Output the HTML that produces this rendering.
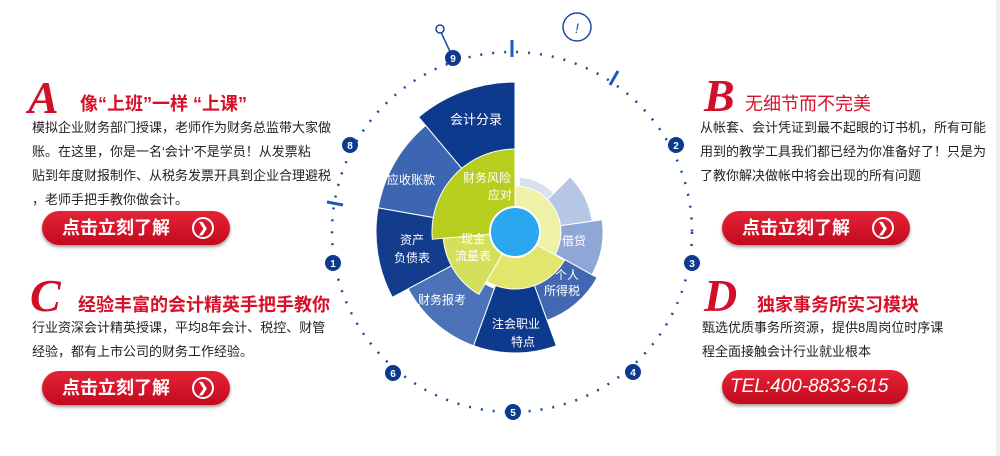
<!DOCTYPE html>
<html><head><meta charset="utf-8">
<style>
body{margin:0;width:1000px;height:456px;background:#fff;overflow:hidden;position:relative;font-family:"Liberation Sans","Noto Sans CJK SC",sans-serif}
.t{position:absolute;white-space:nowrap}
.ttl{color:#d7102a;font-size:18px;font-weight:bold}
.body{font-size:13px;color:#222;line-height:24px}
.L{position:absolute;color:#d01028;font-family:"Liberation Serif",serif;font-style:italic;font-weight:bold;font-size:46px;line-height:40px}
.btn{position:absolute;width:188px;height:34px;border-radius:17px;background:linear-gradient(#e52336,#c40a1e);box-shadow:0 2px 3px #999;color:#fff;font-size:18px;font-weight:bold;line-height:34px}
.btn span{position:absolute;left:20px}
.btn i{position:absolute;left:150px;top:6px;width:18px;height:18px;border:2px solid #fff;border-radius:50%;font-style:normal;font-size:13px;line-height:18px;text-align:center}
</style></head><body>
<div style="position:absolute;left:996px;top:0;width:4px;height:456px;background:#eef0f4"></div>
<svg id="s" width="1000" height="456" style="position:absolute;left:0;top:0">
<circle cx="512" cy="232" r="180" fill="none" stroke="#1a4aa0" stroke-width="2.5" stroke-dasharray="2 10"/>
<line x1="512" y1="40" x2="512" y2="57" stroke="#1a5ac0" stroke-width="3"/>
<line x1="618" y1="71" x2="610" y2="85" stroke="#1a5ac0" stroke-width="3"/>
<line x1="327" y1="202" x2="343" y2="205" stroke="#1a5ac0" stroke-width="3"/>
<line x1="453" y1="58" x2="440" y2="30" stroke="#1a4aa0" stroke-width="1.5"/>
<circle cx="440" cy="29" r="4" fill="#fff" stroke="#1a4aa0" stroke-width="1.5"/>
<circle cx="577" cy="27" r="14" fill="#fff" stroke="#1a4aa0" stroke-width="1.5"/>
<text x="575" y="33" font-size="14" fill="#1a4aa0" font-style="italic">!</text>
<g id="nums" font-size="10" font-weight="bold" fill="#fff" text-anchor="middle"></g>
<g id="sun"></g>
</svg>
<div class="L" style="left:28px;top:78px">A</div>
<div class="t ttl" style="left:80px;top:90px">像“上班”一样 “上课”</div>
<div class="t body" style="left:32px;top:116px">模拟企业财务部门授课，老师作为财务总监带大家做<br>账。在这里，你是一名‘会计’不是学员！从发票粘<br>贴到年度财报制作、从税务发票开具到企业合理避税<br>，老师手把手教你做会计。</div>
<div class="btn" style="left:42px;top:211px"><span>点击立刻了解</span><i>❯</i></div>
<div class="L" style="left:30px;top:276px">C</div>
<div class="t ttl" style="left:78px;top:291px">经验丰富的会计精英手把手教你</div>
<div class="t body" style="left:32px;top:316px">行业资深会计精英授课，平均8年会计、税控、财管<br>经验，都有上市公司的财务工作经验。</div>
<div class="btn" style="left:42px;top:371px"><span>点击立刻了解</span><i>❯</i></div>
<div class="L" style="left:704px;top:76px">B</div>
<div class="t ttl" style="left:745px;top:90px;font-weight:normal">无细节而不完美</div>
<div class="t body" style="left:700px;top:116px">从帐套、会计凭证到最不起眼的订书机，所有可能<br>用到的教学工具我们都已经为你准备好了！只是为<br>了教你解决做帐中将会出现的所有问题</div>
<div class="btn" style="left:722px;top:211px"><span>点击立刻了解</span><i>❯</i></div>
<div class="L" style="left:704px;top:276px">D</div>
<div class="t ttl" style="left:757px;top:291px">独家事务所实习模块</div>
<div class="t body" style="left:702px;top:316px">甄选优质事务所资源，提供8周岗位时序课<br>程全面接触会计行业就业根本</div>
<div class="btn" style="left:722px;top:370px;width:186px;font-style:italic;font-weight:normal;font-size:19px"><span style="left:8px">TEL:400-8833-615</span></div>
<script>
var cx=515,cy=232,ns="http://www.w3.org/2000/svg",sun=document.getElementById('sun');
function P(a,r){a=a*Math.PI/180;return [cx+r*Math.sin(a),cy-r*Math.cos(a)];}
function seg(a0,a1,r0,r1,col){var p=document.createElementNS(ns,'path'),l=Math.abs(a1-a0)>180?1:0;
var A=P(a0,r1),B=P(a1,r1),C=P(a1,r0),D=P(a0,r0);
p.setAttribute('d','M'+A+' A'+r1+' '+r1+' 0 '+l+' 1 '+B+' L'+C+' A'+r0+' '+r0+' 0 '+l+' 0 '+D+'Z');
p.setAttribute('fill',col);p.setAttribute('stroke','#fff');p.setAttribute('stroke-width','1');sun.appendChild(p);}
function tx(x,y,s,fs){var t=document.createElementNS(ns,'text');t.setAttribute('x',x);t.setAttribute('y',y);t.setAttribute('fill','#fff');t.setAttribute('font-size',fs||12);t.setAttribute('text-anchor','middle');t.textContent=s;sun.appendChild(t);}
seg(-40,0,80,150,'#0e3a8e');
seg(-80,-40,80,139,'#3d66b2');
seg(-118,-80,65,139,'#133c8d');
seg(-160,-118,60,121,'#4c73b9');
seg(-200,-160,50,121,'#0e3a8e');
seg(119,160,50,94,'#4268b2');
seg(82,119,45,88,'#8ea7d6');
seg(45,82,45,78,'#b5c7e4');
seg(5,45,45,55,'#d7e1f0');
seg(0,120,25,46,'#eef1a6');
seg(120,210,25,57,'#e2e66c');
seg(-150,-95,25,72,'#d4df5c');
seg(-95,0,25,83,'#b7ce1e');
var c=document.createElementNS(ns,'circle');c.setAttribute('cx',cx);c.setAttribute('cy',cy);c.setAttribute('r',25);c.setAttribute('fill','#2aa7ee');c.setAttribute('stroke','#fff');c.setAttribute('stroke-width','2');sun.appendChild(c);
tx(476,124,'会计分录',13);tx(411,184,'应收账款');tx(412,244,'资产');tx(412,262,'负债表');
tx(442,304,'财务报考');tx(516,328,'注会职业');tx(523,346,'特点');tx(567,279,'个人');tx(562,295,'所得税');
tx(574,245,'借贷');tx(487,182,'财务风险');tx(500,199,'应对');tx(473,243,'现金');tx(473,260,'流量表');
var nm=[[453,58,'9'],[350,145,'8'],[333,263,'1'],[393,373,'6'],[513,412,'5'],[633,372,'4'],[692,263,'3'],[676,145,'2']],g=document.getElementById('nums');
nm.forEach(function(n){var c=document.createElementNS(ns,'circle');c.setAttribute('cx',n[0]);c.setAttribute('cy',n[1]);c.setAttribute('r',8);c.setAttribute('fill','#0d3a8e');g.appendChild(c);
var t=document.createElementNS(ns,'text');t.setAttribute('x',n[0]);t.setAttribute('y',n[1]+4);t.textContent=n[2];g.appendChild(t);});
</script>
</body></html>
